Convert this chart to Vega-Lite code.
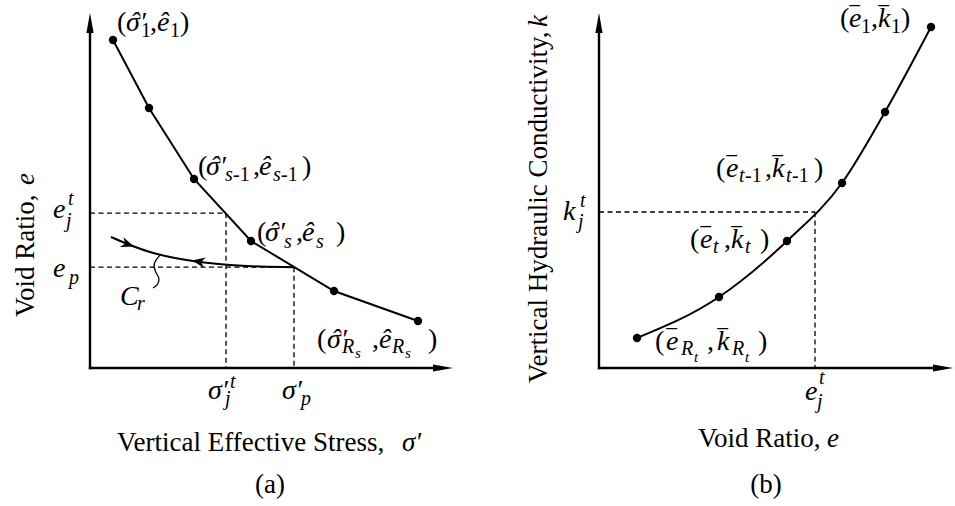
{
  "$schema": "https://vega.github.io/schema/vega-lite/v6.json",
  "padding": 0,
  "spacing": 0,
  "background": "white",
  "config": {"view": {"stroke": null}, "concat": {"spacing": 0}},
  "datasets": {
    "ptsA": [
      {"x": 0.575, "y": 8.2, "i": 1}, {"x": 1.475, "y": 6.5, "i": 2}, {"x": 2.6, "y": 4.725, "i": 3},
      {"x": 4.025, "y": 3.175, "i": 4}, {"x": 6.1, "y": 1.925, "i": 5}, {"x": 8.2, "y": 1.175, "i": 6}
    ],
    "recA": [
      {"x": 0.525, "y": 3.275, "i": 1}, {"x": 1.0, "y": 3.075, "i": 2}, {"x": 1.5, "y": 2.9, "i": 3},
      {"x": 2.0, "y": 2.775, "i": 4}, {"x": 2.75, "y": 2.65, "i": 5}, {"x": 3.5, "y": 2.575, "i": 6},
      {"x": 4.25, "y": 2.535, "i": 7}, {"x": 5.1, "y": 2.52, "i": 8}
    ],
    "sqA": [
      {"x": 1.75, "y": 2.825, "i": 1}, {"x": 1.575, "y": 2.625, "i": 2}, {"x": 1.625, "y": 2.4, "i": 3},
      {"x": 1.75, "y": 2.25, "i": 4}, {"x": 1.7, "y": 2.075, "i": 5}, {"x": 1.575, "y": 2.0, "i": 6}
    ],
    "rulesA": [
      {"x": 0, "y": 0, "x2": 0, "y2": 8.55, "kind": "axis"},
      {"x": 0, "y": 0, "x2": 8.75, "y2": 0, "kind": "axis"},
      {"x": 0, "y": 3.87, "x2": 3.4, "y2": 3.87, "kind": "dash"},
      {"x": 3.4, "y": 3.87, "x2": 3.4, "y2": 0, "kind": "dash"},
      {"x": 0, "y": 2.52, "x2": 5.1, "y2": 2.52, "kind": "dash"},
      {"x": 5.1, "y": 2.52, "x2": 5.1, "y2": 0, "kind": "dash"}
    ],
    "arrA": [
      {"x": 0, "y": 8.875, "dir": "up"}, {"x": 9.075, "y": 0, "dir": "right"},
      {"x": 1.1, "y": 3.04, "dir": "fwd"}, {"x": 2.55, "y": 2.685, "dir": "back"}
    ],
    "textA": [
      {"x": 0.675, "y": 8.425, "text": "(", "role": "paren"},
      {"x": 0.9, "y": 8.425, "text": "\u03c3\u2032", "role": "var"},
      {"x": 1.0, "y": 8.425, "text": "\u02c6", "role": "var"},
      {"x": 1.275, "y": 8.275, "text": "1", "role": "smalln"},
      {"x": 1.5, "y": 8.425, "text": ",", "role": "paren"},
      {"x": 1.675, "y": 8.425, "text": "\u00ea", "role": "var"},
      {"x": 2.0, "y": 8.275, "text": "1", "role": "smalln"},
      {"x": 2.25, "y": 8.425, "text": ")", "role": "paren"},

      {"x": 2.7, "y": 4.825, "text": "(", "role": "paren"},
      {"x": 2.9, "y": 4.825, "text": "\u03c3\u2032", "role": "var"},
      {"x": 3.0, "y": 4.825, "text": "\u02c6", "role": "var"},
      {"x": 3.375, "y": 4.675, "text": "s", "role": "small"},
      {"x": 3.575, "y": 4.675, "text": "-1", "role": "smalln"},
      {"x": 4.075, "y": 4.825, "text": ",", "role": "paren"},
      {"x": 4.225, "y": 4.825, "text": "\u00ea", "role": "var"},
      {"x": 4.575, "y": 4.675, "text": "s", "role": "small"},
      {"x": 4.775, "y": 4.675, "text": "-1", "role": "smalln"},
      {"x": 5.3, "y": 4.825, "text": ")", "role": "paren"},

      {"x": 4.175, "y": 3.175, "text": "(", "role": "paren"},
      {"x": 4.375, "y": 3.175, "text": "\u03c3\u2032", "role": "var"},
      {"x": 4.475, "y": 3.175, "text": "\u02c6", "role": "var"},
      {"x": 4.85, "y": 3.0, "text": "s", "role": "small"},
      {"x": 5.15, "y": 3.175, "text": ",", "role": "paren"},
      {"x": 5.3, "y": 3.175, "text": "\u00ea", "role": "var"},
      {"x": 5.65, "y": 3.0, "text": "s", "role": "small"},
      {"x": 6.15, "y": 3.175, "text": ")", "role": "paren"},

      {"x": 5.675, "y": 0.5, "text": "(", "role": "paren"},
      {"x": 5.925, "y": 0.5, "text": "\u03c3\u2032", "role": "var"},
      {"x": 6.025, "y": 0.5, "text": "\u02c6", "role": "var"},
      {"x": 6.3, "y": 0.375, "text": "R", "role": "small"},
      {"x": 6.625, "y": 0.25, "text": "s", "role": "tiny"},
      {"x": 7.05, "y": 0.5, "text": ",", "role": "paren"},
      {"x": 7.225, "y": 0.5, "text": "\u00ea", "role": "var"},
      {"x": 7.55, "y": 0.375, "text": "R", "role": "small"},
      {"x": 7.875, "y": 0.25, "text": "s", "role": "tiny"},
      {"x": 8.45, "y": 0.5, "text": ")", "role": "paren"},

      {"x": -0.925, "y": 3.75, "text": "e", "role": "var"},
      {"x": -0.55, "y": 4.075, "text": "t", "role": "small"},
      {"x": -0.6, "y": 3.525, "text": "j", "role": "small"},
      {"x": -0.925, "y": 2.275, "text": "e", "role": "var"},
      {"x": -0.525, "y": 2.1, "text": "p", "role": "small"},
      {"x": 0.75, "y": 1.575, "text": "C", "role": "var"},
      {"x": 1.175, "y": 1.45, "text": "r", "role": "small"},
      {"x": 2.95, "y": -0.775, "text": "\u03c3\u2032", "role": "var"},
      {"x": 3.5, "y": -0.5, "text": "t", "role": "small"},
      {"x": 3.375, "y": -0.925, "text": "j", "role": "small"},
      {"x": 4.8, "y": -0.775, "text": "\u03c3\u2032", "role": "var"},
      {"x": 5.275, "y": -0.925, "text": "p", "role": "small"},

      {"x": 0.675, "y": -2.075, "text": "Vertical Effective Stress,", "role": "title"},
      {"x": 7.8, "y": -2.075, "text": "\u03c3\u2032", "role": "titlevar"},
      {"x": 4.5, "y": -3.125, "text": "(a)", "role": "caption"},
      {"x": -1.4, "y": 1.275, "text": "Void Ratio,", "role": "ytitle"},
      {"x": -1.4, "y": 4.575, "text": "e", "role": "ytitlevar"}
    ],
    "ptsB": [
      {"x": 8.3, "y": 8.525, "i": 1}, {"x": 7.15, "y": 6.4, "i": 2}, {"x": 6.075, "y": 4.625, "i": 3},
      {"x": 4.7, "y": 3.175, "i": 4}, {"x": 3.0, "y": 1.775, "i": 5}, {"x": 0.95, "y": 0.75, "i": 6}
    ],
    "rulesB": [
      {"x": 0, "y": 0, "x2": 0, "y2": 8.55, "kind": "axis"},
      {"x": 0, "y": 0, "x2": 8.55, "y2": 0, "kind": "axis"},
      {"x": 0, "y": 3.9, "x2": 5.4, "y2": 3.9, "kind": "dash"},
      {"x": 5.4, "y": 3.9, "x2": 5.4, "y2": 0, "kind": "dash"}
    ],
    "arrB": [
      {"x": 0, "y": 8.875, "dir": "up"}, {"x": 8.85, "y": 0, "dir": "right"}
    ],
    "textB": [
      {"x": 6.025, "y": 8.525, "text": "(", "role": "paren"},
      {"x": 6.25, "y": 8.525, "text": "e", "role": "var"},
      {"x": 6.275, "y": 8.525, "text": "\u203e", "role": "var"},
      {"x": 6.55, "y": 8.375, "text": "1", "role": "smalln"},
      {"x": 6.8, "y": 8.525, "text": ",", "role": "paren"},
      {"x": 6.975, "y": 8.525, "text": "k", "role": "var"},
      {"x": 7.0, "y": 8.525, "text": "\u203e", "role": "var"},
      {"x": 7.3, "y": 8.375, "text": "1", "role": "smalln"},
      {"x": 7.55, "y": 8.525, "text": ")", "role": "paren"},

      {"x": 2.925, "y": 4.775, "text": "(", "role": "paren"},
      {"x": 3.175, "y": 4.775, "text": "e", "role": "var"},
      {"x": 3.2, "y": 4.775, "text": "\u203e", "role": "var"},
      {"x": 3.5, "y": 4.65, "text": "t", "role": "small"},
      {"x": 3.65, "y": 4.65, "text": "-1", "role": "smalln"},
      {"x": 4.15, "y": 4.775, "text": ",", "role": "paren"},
      {"x": 4.325, "y": 4.775, "text": "k", "role": "var"},
      {"x": 4.35, "y": 4.775, "text": "\u203e", "role": "var"},
      {"x": 4.675, "y": 4.65, "text": "t", "role": "small"},
      {"x": 4.825, "y": 4.65, "text": "-1", "role": "smalln"},
      {"x": 5.375, "y": 4.775, "text": ")", "role": "paren"},

      {"x": 2.275, "y": 3.0, "text": "(", "role": "paren"},
      {"x": 2.525, "y": 3.0, "text": "e", "role": "var"},
      {"x": 2.55, "y": 3.0, "text": "\u203e", "role": "var"},
      {"x": 2.85, "y": 2.875, "text": "t", "role": "small"},
      {"x": 3.125, "y": 3.0, "text": ",", "role": "paren"},
      {"x": 3.3, "y": 3.0, "text": "k", "role": "var"},
      {"x": 3.325, "y": 3.0, "text": "\u203e", "role": "var"},
      {"x": 3.65, "y": 2.875, "text": "t", "role": "small"},
      {"x": 4.025, "y": 3.0, "text": ")", "role": "paren"},

      {"x": 1.4, "y": 0.45, "text": "(", "role": "paren"},
      {"x": 1.675, "y": 0.45, "text": "e", "role": "var"},
      {"x": 1.7, "y": 0.45, "text": "\u203e", "role": "var"},
      {"x": 2.05, "y": 0.325, "text": "R", "role": "small"},
      {"x": 2.375, "y": 0.15, "text": "t", "role": "tiny"},
      {"x": 2.7, "y": 0.45, "text": ",", "role": "paren"},
      {"x": 2.95, "y": 0.45, "text": "k", "role": "var"},
      {"x": 2.975, "y": 0.45, "text": "\u203e", "role": "var"},
      {"x": 3.325, "y": 0.325, "text": "R", "role": "small"},
      {"x": 3.65, "y": 0.15, "text": "t", "role": "tiny"},
      {"x": 3.975, "y": 0.45, "text": ")", "role": "paren"},

      {"x": -0.9, "y": 3.7, "text": "k", "role": "var"},
      {"x": -0.475, "y": 4.025, "text": "t", "role": "small"},
      {"x": -0.525, "y": 3.5, "text": "j", "role": "small"},
      {"x": 5.15, "y": -0.8, "text": "e", "role": "var"},
      {"x": 5.5, "y": -0.4, "text": "t", "role": "small"},
      {"x": 5.45, "y": -1.0, "text": "j", "role": "small"},

      {"x": 2.475, "y": -1.975, "text": "Void Ratio,", "role": "title"},
      {"x": 5.7, "y": -1.975, "text": "e", "role": "titlevar"},
      {"x": 4.175, "y": -3.125, "text": "(b)", "role": "caption"},
      {"x": -1.3, "y": -0.375, "text": "Vertical Hydraulic Conductivity,", "role": "ytitle"},
      {"x": -1.3, "y": 8.525, "text": "k", "role": "ytitlevar"}
    ]
  },
  "hconcat": [
    {
      "width": 477,
      "height": 506,
      "encoding": {
        "x": {"field": "x", "type": "quantitative", "scale": {"domain": [-2.25, 9.675], "nice": false, "zero": false}, "axis": null},
        "y": {"field": "y", "type": "quantitative", "scale": {"domain": [-3.45, 9.2], "nice": false, "zero": false}, "axis": null}
      },
      "layer": [
        {"data": {"name": "rulesA"}, "transform": [{"filter": "datum.kind === 'dash'"}],
         "mark": {"type": "rule", "color": "black", "strokeWidth": 1.3, "strokeDash": [5, 3.5]},
         "encoding": {"x2": {"field": "x2"}, "y2": {"field": "y2"}}},
        {"data": {"name": "rulesA"}, "transform": [{"filter": "datum.kind === 'axis'"}],
         "mark": {"type": "rule", "color": "black", "strokeWidth": 2.4, "strokeCap": "square"},
         "encoding": {"x2": {"field": "x2"}, "y2": {"field": "y2"}}},
        {"data": {"name": "recA"},
         "mark": {"type": "line", "color": "black", "strokeWidth": 2, "interpolate": "monotone"},
         "encoding": {"order": {"field": "i", "type": "quantitative"}}},
        {"data": {"name": "sqA"},
         "mark": {"type": "line", "color": "black", "strokeWidth": 1.3, "interpolate": "basis"},
         "encoding": {"order": {"field": "i", "type": "quantitative"}}},
        {"data": {"name": "ptsA"},
         "mark": {"type": "line", "color": "black", "strokeWidth": 2},
         "encoding": {"order": {"field": "i", "type": "quantitative"}}},
        {"data": {"name": "ptsA"},
         "mark": {"type": "point", "filled": true, "color": "black", "opacity": 1, "size": 70}},
        {"data": {"name": "arrA"}, "transform": [{"filter": "datum.dir === 'up'"}],
         "mark": {"type": "point", "shape": "M0,0L0.18,1L-0.18,1Z", "filled": true, "color": "black", "opacity": 1, "size": 1600}},
        {"data": {"name": "arrA"}, "transform": [{"filter": "datum.dir === 'right'"}],
         "mark": {"type": "point", "shape": "M0,0L-1,-0.18L-1,0.18Z", "filled": true, "color": "black", "opacity": 1, "size": 1600}},
        {"data": {"name": "arrA"}, "transform": [{"filter": "datum.dir === 'fwd'"}],
         "mark": {"type": "point", "shape": "M0,0L-1,-0.4L-0.7,0L-1,0.4Z", "angle": 19, "filled": true, "color": "black", "opacity": 1, "size": 676}},
        {"data": {"name": "arrA"}, "transform": [{"filter": "datum.dir === 'back'"}],
         "mark": {"type": "point", "shape": "M0,0L-1,-0.4L-0.7,0L-1,0.4Z", "angle": 189.5, "filled": true, "color": "black", "opacity": 1, "size": 676}},
        {"data": {"name": "textA"}, "transform": [{"filter": "datum.role === 'paren'"}],
         "mark": {"type": "text", "font": "Liberation Serif", "fontSize": 28, "align": "left", "baseline": "alphabetic", "color": "black"},
         "encoding": {"text": {"field": "text"}}},
        {"data": {"name": "textA"}, "transform": [{"filter": "datum.role === 'var'"}],
         "mark": {"type": "text", "font": "Liberation Serif", "fontStyle": "italic", "fontSize": 28, "align": "left", "baseline": "alphabetic", "color": "black"},
         "encoding": {"text": {"field": "text"}}},
        {"data": {"name": "textA"}, "transform": [{"filter": "datum.role === 'small'"}],
         "mark": {"type": "text", "font": "Liberation Serif", "fontStyle": "italic", "fontSize": 20, "align": "left", "baseline": "alphabetic", "color": "black"},
         "encoding": {"text": {"field": "text"}}},
        {"data": {"name": "textA"}, "transform": [{"filter": "datum.role === 'smalln'"}],
         "mark": {"type": "text", "font": "Liberation Serif", "fontSize": 20, "align": "left", "baseline": "alphabetic", "color": "black"},
         "encoding": {"text": {"field": "text"}}},
        {"data": {"name": "textA"}, "transform": [{"filter": "datum.role === 'tiny'"}],
         "mark": {"type": "text", "font": "Liberation Serif", "fontStyle": "italic", "fontSize": 15, "align": "left", "baseline": "alphabetic", "color": "black"},
         "encoding": {"text": {"field": "text"}}},
        {"data": {"name": "textA"}, "transform": [{"filter": "datum.role === 'title'"}],
         "mark": {"type": "text", "font": "Liberation Serif", "fontSize": 27, "align": "left", "baseline": "alphabetic", "color": "black"},
         "encoding": {"text": {"field": "text"}}},
        {"data": {"name": "textA"}, "transform": [{"filter": "datum.role === 'titlevar'"}],
         "mark": {"type": "text", "font": "Liberation Serif", "fontStyle": "italic", "fontSize": 27, "align": "left", "baseline": "alphabetic", "color": "black"},
         "encoding": {"text": {"field": "text"}}},
        {"data": {"name": "textA"}, "transform": [{"filter": "datum.role === 'caption'"}],
         "mark": {"type": "text", "font": "Liberation Serif", "fontSize": 27, "align": "center", "baseline": "alphabetic", "color": "black"},
         "encoding": {"text": {"field": "text"}}},
        {"data": {"name": "textA"}, "transform": [{"filter": "datum.role === 'ytitle'"}],
         "mark": {"type": "text", "font": "Liberation Serif", "fontSize": 27, "angle": 270, "align": "left", "baseline": "alphabetic", "color": "black"},
         "encoding": {"text": {"field": "text"}}},
        {"data": {"name": "textA"}, "transform": [{"filter": "datum.role === 'ytitlevar'"}],
         "mark": {"type": "text", "font": "Liberation Serif", "fontStyle": "italic", "fontSize": 27, "angle": 270, "align": "left", "baseline": "alphabetic", "color": "black"},
         "encoding": {"text": {"field": "text"}}}
      ]
    },
    {
      "width": 478,
      "height": 506,
      "encoding": {
        "x": {"field": "x", "type": "quantitative", "scale": {"domain": [-3.05, 8.9], "nice": false, "zero": false}, "axis": null},
        "y": {"field": "y", "type": "quantitative", "scale": {"domain": [-3.45, 9.2], "nice": false, "zero": false}, "axis": null}
      },
      "layer": [
        {"data": {"name": "rulesB"}, "transform": [{"filter": "datum.kind === 'dash'"}],
         "mark": {"type": "rule", "color": "black", "strokeWidth": 1.3, "strokeDash": [5, 3.5]},
         "encoding": {"x2": {"field": "x2"}, "y2": {"field": "y2"}}},
        {"data": {"name": "rulesB"}, "transform": [{"filter": "datum.kind === 'axis'"}],
         "mark": {"type": "rule", "color": "black", "strokeWidth": 2.4, "strokeCap": "square"},
         "encoding": {"x2": {"field": "x2"}, "y2": {"field": "y2"}}},
        {"data": {"name": "ptsB"},
         "mark": {"type": "line", "color": "black", "strokeWidth": 2, "interpolate": "monotone"},
         "encoding": {"order": {"field": "x", "type": "quantitative"}}},
        {"data": {"name": "ptsB"},
         "mark": {"type": "point", "filled": true, "color": "black", "opacity": 1, "size": 70}},
        {"data": {"name": "arrB"}, "transform": [{"filter": "datum.dir === 'up'"}],
         "mark": {"type": "point", "shape": "M0,0L0.18,1L-0.18,1Z", "filled": true, "color": "black", "opacity": 1, "size": 1600}},
        {"data": {"name": "arrB"}, "transform": [{"filter": "datum.dir === 'right'"}],
         "mark": {"type": "point", "shape": "M0,0L-1,-0.18L-1,0.18Z", "filled": true, "color": "black", "opacity": 1, "size": 1600}},
        {"data": {"name": "textB"}, "transform": [{"filter": "datum.role === 'paren'"}],
         "mark": {"type": "text", "font": "Liberation Serif", "fontSize": 28, "align": "left", "baseline": "alphabetic", "color": "black"},
         "encoding": {"text": {"field": "text"}}},
        {"data": {"name": "textB"}, "transform": [{"filter": "datum.role === 'var'"}],
         "mark": {"type": "text", "font": "Liberation Serif", "fontStyle": "italic", "fontSize": 28, "align": "left", "baseline": "alphabetic", "color": "black"},
         "encoding": {"text": {"field": "text"}}},
        {"data": {"name": "textB"}, "transform": [{"filter": "datum.role === 'small'"}],
         "mark": {"type": "text", "font": "Liberation Serif", "fontStyle": "italic", "fontSize": 20, "align": "left", "baseline": "alphabetic", "color": "black"},
         "encoding": {"text": {"field": "text"}}},
        {"data": {"name": "textB"}, "transform": [{"filter": "datum.role === 'smalln'"}],
         "mark": {"type": "text", "font": "Liberation Serif", "fontSize": 20, "align": "left", "baseline": "alphabetic", "color": "black"},
         "encoding": {"text": {"field": "text"}}},
        {"data": {"name": "textB"}, "transform": [{"filter": "datum.role === 'tiny'"}],
         "mark": {"type": "text", "font": "Liberation Serif", "fontStyle": "italic", "fontSize": 15, "align": "left", "baseline": "alphabetic", "color": "black"},
         "encoding": {"text": {"field": "text"}}},
        {"data": {"name": "textB"}, "transform": [{"filter": "datum.role === 'title'"}],
         "mark": {"type": "text", "font": "Liberation Serif", "fontSize": 27, "align": "left", "baseline": "alphabetic", "color": "black"},
         "encoding": {"text": {"field": "text"}}},
        {"data": {"name": "textB"}, "transform": [{"filter": "datum.role === 'titlevar'"}],
         "mark": {"type": "text", "font": "Liberation Serif", "fontStyle": "italic", "fontSize": 27, "align": "left", "baseline": "alphabetic", "color": "black"},
         "encoding": {"text": {"field": "text"}}},
        {"data": {"name": "textB"}, "transform": [{"filter": "datum.role === 'caption'"}],
         "mark": {"type": "text", "font": "Liberation Serif", "fontSize": 27, "align": "center", "baseline": "alphabetic", "color": "black"},
         "encoding": {"text": {"field": "text"}}},
        {"data": {"name": "textB"}, "transform": [{"filter": "datum.role === 'ytitle'"}],
         "mark": {"type": "text", "font": "Liberation Serif", "fontSize": 27, "angle": 270, "align": "left", "baseline": "alphabetic", "color": "black"},
         "encoding": {"text": {"field": "text"}}},
        {"data": {"name": "textB"}, "transform": [{"filter": "datum.role === 'ytitlevar'"}],
         "mark": {"type": "text", "font": "Liberation Serif", "fontStyle": "italic", "fontSize": 27, "angle": 270, "align": "left", "baseline": "alphabetic", "color": "black"},
         "encoding": {"text": {"field": "text"}}}
      ]
    }
  ]
}
